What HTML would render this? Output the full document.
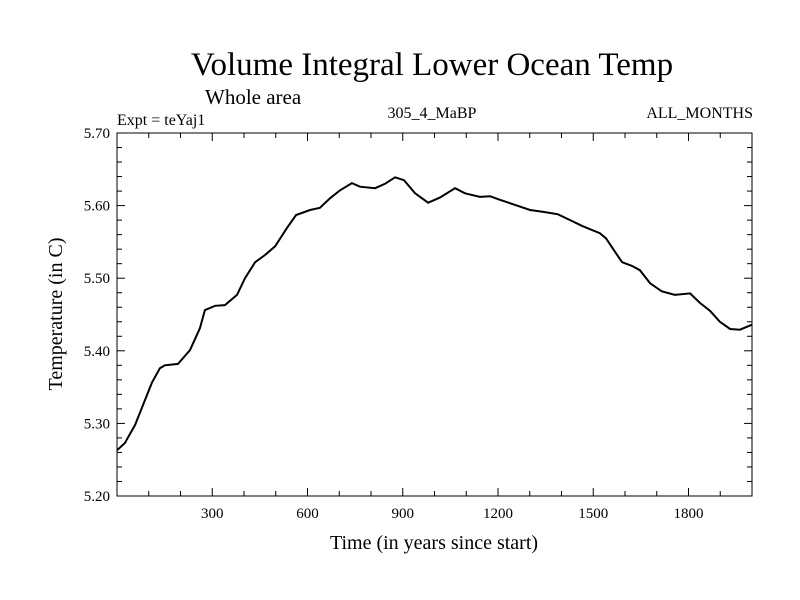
<!DOCTYPE html>
<html><head><meta charset="utf-8"><style>
body{margin:0;background:#fff}
svg{display:block;font-family:"Liberation Serif",serif}
</style></head><body>
<svg id="chart" width="800" height="600" xmlns="http://www.w3.org/2000/svg">
<text x="432" y="75" font-size="33" text-anchor="middle">Volume Integral Lower Ocean Temp</text>
<text x="205" y="104" font-size="21">Whole area</text>
<text x="117" y="125" font-size="16">Expt = teYaj1</text>
<text x="432" y="118" font-size="16" text-anchor="middle">305_4_MaBP</text>
<text x="753" y="118" font-size="16" text-anchor="end">ALL_MONTHS</text>
<text x="434" y="549" font-size="20" text-anchor="middle">Time (in years since start)</text>
<text transform="translate(62,314) rotate(-90)" font-size="20" text-anchor="middle">Temperature (in C)</text>
<g id="axes"></g>
<rect x="117" y="133" width="635" height="363" fill="none" stroke="#000" stroke-width="1"/>
<path id="line" fill="none" stroke="#000" stroke-width="2"/>
</svg>
<script>
const years=[0,25,57,88,110,135,151,192,230,261,277,309,340,378,403,435,466,498,535,564,608,639,671,702,740,765,813,844,876,904,939,980,1017,1065,1096,1143,1175,1206,1254,1301,1348,1389,1427,1465,1521,1540,1569,1591,1622,1647,1679,1716,1757,1805,1836,1868,1899,1931,1962,2000];
const temps=[5.263,5.273,5.298,5.332,5.356,5.376,5.380,5.382,5.401,5.431,5.456,5.462,5.463,5.477,5.500,5.522,5.532,5.544,5.569,5.587,5.594,5.597,5.610,5.621,5.631,5.626,5.624,5.630,5.639,5.635,5.617,5.604,5.611,5.624,5.617,5.612,5.613,5.608,5.601,5.594,5.591,5.588,5.580,5.572,5.562,5.555,5.536,5.522,5.517,5.511,5.493,5.482,5.477,5.479,5.466,5.455,5.440,5.430,5.429,5.436];
const xTickLabels=[300,600,900,1200,1500,1800];
const yTickLabels=["5.20","5.30","5.40","5.50","5.60","5.70"];
const X0=117,X1=752,Y0=496,Y1=133,XMIN=0,XMAX=2000,YMIN=5.2,YMAX=5.7;
const sx=v=>X0+(v-XMIN)/(XMAX-XMIN)*(X1-X0);
const sy=v=>Y0-(v-YMIN)/(YMAX-YMIN)*(Y0-Y1);
const NS="http://www.w3.org/2000/svg";
const axes=document.getElementById('axes');
function ln(x1,y1,x2,y2,name){const l=document.createElementNS(NS,'line');l.setAttribute('x1',x1);l.setAttribute('y1',y1);l.setAttribute('x2',x2);l.setAttribute('y2',y2);l.setAttribute('stroke','#000');


axes.appendChild(l);}
function tx(x,y,s,anchor,name){const t=document.createElementNS(NS,'text');t.setAttribute('x',x);t.setAttribute('y',y);t.setAttribute('font-size','15');t.setAttribute('text-anchor',anchor);t.textContent=s;


axes.appendChild(t);}
for(let v=100;v<XMAX;v+=100){const x=sx(v);const L=(v%300===0)?8:5;ln(x,Y0,x,Y0-L,'x-tick');ln(x,Y1,x,Y1+L,'x-tick-top');}
xTickLabels.forEach(v=>tx(sx(v),518,String(v),'middle','x-tick-label'));
for(let i=0;i<=25;i++){const v=YMIN+i*0.02;const y=sy(v);const L=(i%5===0)?8:5;ln(X0,y,X0+L,y,'y-tick');ln(X1,y,X1-L,y,'y-tick-right');}
yTickLabels.forEach(s=>tx(110,sy(parseFloat(s))+5,s,'end','y-tick-label'));
document.getElementById('line').setAttribute('d',years.map((y,i)=>(i?'L':'M')+sx(y).toFixed(1)+','+sy(temps[i]).toFixed(1)).join(''));
</script>
</body></html>
